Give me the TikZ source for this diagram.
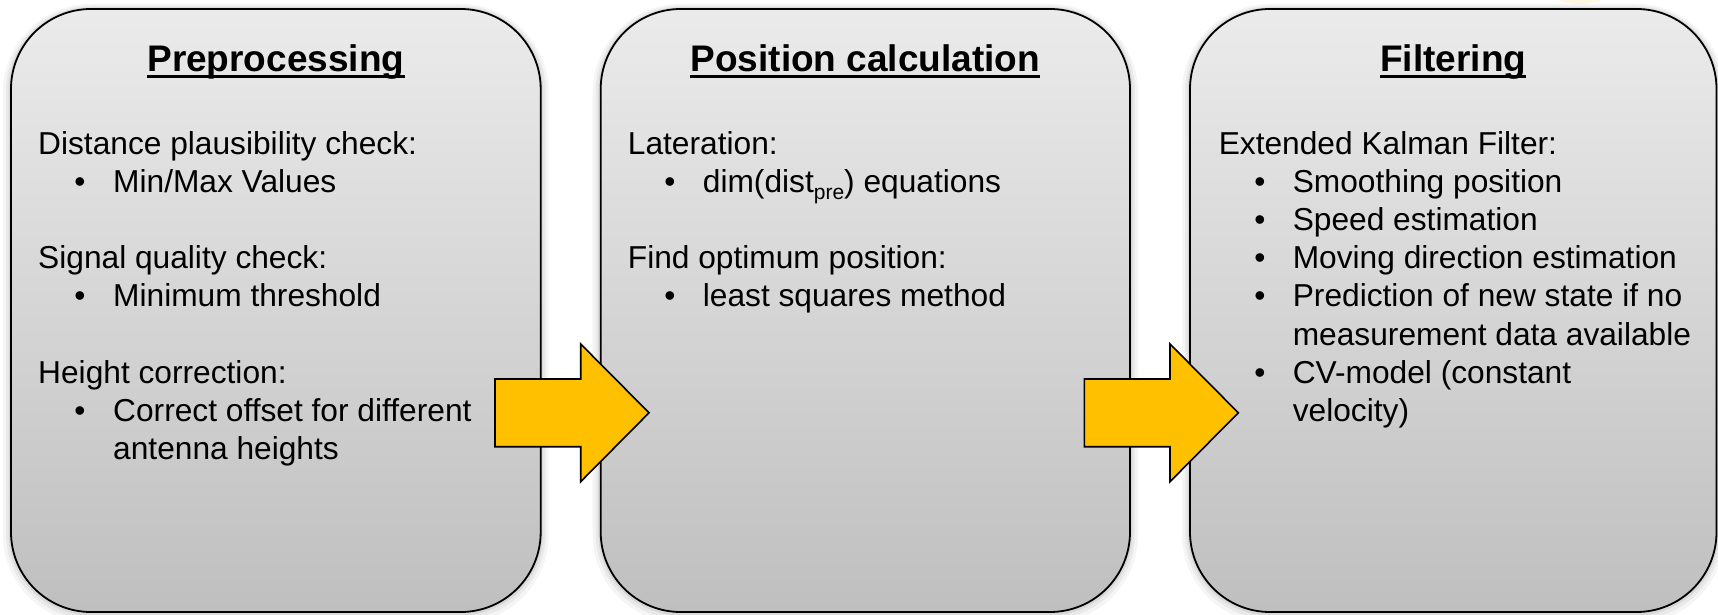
\documentclass[tikz,border=0pt]{standalone}
\usepackage{fontspec}
\setmainfont{Liberation Sans}
\definecolor{boxtop}{HTML}{EBEBEB}
\definecolor{boxbot}{HTML}{BFBFBF}
\definecolor{arrowyel}{HTML}{FFC000}
\tikzset{
  panel/.style={draw=black, line width=1.8pt, rounded corners=80pt,
    top color=boxtop, bottom color=boxbot, inner sep=0pt,
    minimum height=603pt,
    preaction={transform canvas={yshift=-3pt}, draw=black, draw opacity=0.04, line width=16pt},
    preaction={transform canvas={yshift=-2pt}, draw=black, draw opacity=0.05, line width=10pt},
    preaction={transform canvas={yshift=-1pt}, draw=black, draw opacity=0.07, line width=5pt}},
  ttl/.style={font=\fontsize{37}{44}\selectfont\bfseries, inner sep=0pt, anchor=base},
  bodytxt/.style={font=\fontsize{31.7}{38}\selectfont, inner sep=0pt, anchor=base west},
  bul/.style={font=\fontsize{31.7}{38}\selectfont, inner sep=0pt, anchor=base},
  uline/.style={line width=2.7pt},
  blockarrow/.style={draw=black, line width=1.6pt, fill=arrowyel, line join=miter}
}
\begin{document}
\begin{tikzpicture}[x=1pt,y=-1pt]
\useasboundingbox (0,0) rectangle (1718,615);

% faint cut-off logo at the top edge
\fill[arrowyel, opacity=0.12] (1580,-3) ellipse (24pt and 7pt);

% panels
\node[panel, minimum width=529.7pt] (b1) at (275.85,310.5) {};
\node[panel, minimum width=529.3pt] (b2) at (865.35,310.5) {};
\node[panel, minimum width=526.5pt] (b3) at (1453.25,310.5) {};

% titles
\node[ttl] (t1) at (275.85,71.5) {Preprocessing};
\node[ttl] (t2) at (865.35,71.5) {Position calculation};
\node[ttl] (t3) at (1453.25,71.5) {Filtering};
\foreach \t in {t1,t2,t3}{
  \draw[uline] ([yshift=-5pt]\t.base west) -- ([yshift=-5pt]\t.base east);
}

% box 1 text
\node[bodytxt] (p0) at (38,154) {Distance plausibility check:};
\node[bul] (p1b) at (80,192.2) {•};
\node[bodytxt] (p1) at (113,192.2) {Min/Max Values};
\node[bodytxt] (p3) at (38,268.6) {Signal quality check:};
\node[bul] (p4b) at (80,306.8) {•};
\node[bodytxt] (p4) at (113,306.8) {Minimum threshold};
\node[bodytxt] (p6) at (38,383.2) {Height correction:};
\node[bul] (p7b) at (80,421.4) {•};
\node[bodytxt] (p7) at (113,421.4) {Correct offset for different};
\node[bodytxt] (p8) at (113,459.6) {antenna heights};

% box 2 text
\node[bodytxt] (q0) at (627.7,154) {Lateration:};
\node[bul] (q1b) at (670,192.2) {•};
\node[bodytxt] (q1) at (702.7,192.2) {dim(dist\raisebox{-7pt}{\fontsize{21}{21}\selectfont pre}) equations};
\node[bodytxt] (q3) at (627.7,268.6) {Find optimum position:};
\node[bul] (q4b) at (670,306.8) {•};
\node[bodytxt] (q4) at (702.7,306.8) {least squares method};

% box 3 text
\node[bodytxt] (r0) at (1218.6,154) {Extended Kalman Filter:};
\node[bul] (r1b) at (1260,192.2) {•};
\node[bodytxt] (r1) at (1292.6,192.2) {Smoothing position};
\node[bul] (r2b) at (1260,230.4) {•};
\node[bodytxt] (r2) at (1292.6,230.4) {Speed estimation};
\node[bul] (r3b) at (1260,268.6) {•};
\node[bodytxt] (r3) at (1292.6,268.6) {Moving direction estimation};
\node[bul] (r4b) at (1260,306.8) {•};
\node[bodytxt] (r4) at (1292.6,306.8) {Prediction of new state if no};
\node[bodytxt] (r5) at (1292.6,345) {measurement data available};
\node[bul] (r6b) at (1260,383.2) {•};
\node[bodytxt] (r6) at (1292.6,383.2) {CV-model (constant};
\node[bodytxt] (r7) at (1292.6,421.4) {velocity)};

% block arrows
\draw[blockarrow] (495,379) -- (580.7,379) -- (580.7,344) -- (649,412.8)
  -- (580.7,481.7) -- (580.7,446.7) -- (495,446.7) -- cycle;
\draw[blockarrow] (1084.3,379) -- (1170,379) -- (1170,344) -- (1238.3,412.8)
  -- (1170,481.7) -- (1170,446.7) -- (1084.3,446.7) -- cycle;
\end{tikzpicture}
\end{document}
